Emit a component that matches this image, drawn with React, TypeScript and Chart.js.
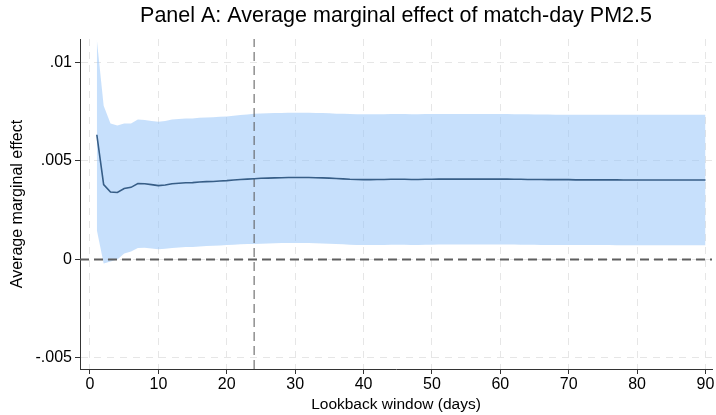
import { useEffect, useRef } from "react";
import { Chart, registerables } from "chart.js";

Chart.register(...registerables);

const days = [
  1, 2, 3, 4, 5, 6, 7, 8, 9, 10, 11, 12, 13, 14, 15, 16, 17, 18, 19, 20,
  21, 22, 23, 24, 25, 26, 27, 28, 29, 30, 31, 32, 33, 34, 35, 36, 37, 38, 39, 40,
  41, 42, 43, 44, 45, 46, 47, 48, 49, 50, 51, 52, 53, 54, 55, 56, 57, 58, 59, 60,
  61, 62, 63, 64, 65, 66, 67, 68, 69, 70, 71, 72, 73, 74, 75, 76, 77, 78, 79, 80,
  81, 82, 83, 84, 85, 86, 87, 88, 89, 90,
];

const estimate = [
  0.00633, 0.0038, 0.00342, 0.0034, 0.0036, 0.00366, 0.00385, 0.00384, 0.0038, 0.00375,
  0.00378, 0.00384, 0.00387, 0.00389, 0.0039, 0.00393, 0.00395, 0.00396, 0.00398, 0.004,
  0.00403, 0.00406, 0.00408, 0.0041, 0.00412, 0.00413, 0.00414, 0.00415, 0.00416, 0.00416,
  0.00416, 0.00416, 0.00415, 0.00414, 0.00413, 0.00411, 0.00409, 0.00407, 0.00406, 0.00405,
  0.00405, 0.00406, 0.00406, 0.00407, 0.00407, 0.00407, 0.00406, 0.00406, 0.00407, 0.00407,
  0.00408, 0.00408, 0.00408, 0.00408, 0.00408, 0.00408, 0.00408, 0.00408, 0.00408, 0.00408,
  0.00408, 0.00407, 0.00407, 0.00406, 0.00406, 0.00406, 0.00405, 0.00405, 0.00405, 0.00405,
  0.00404, 0.00404, 0.00404, 0.00404, 0.00404, 0.00404, 0.00404, 0.00403, 0.00403, 0.00403,
  0.00403, 0.00403, 0.00403, 0.00403, 0.00403, 0.00403, 0.00403, 0.00403, 0.00403, 0.00403,
];

const upper = [
  0.01115, 0.0078, 0.0069, 0.0068, 0.0069, 0.0069, 0.0071, 0.00708, 0.00703, 0.00699,
  0.00703, 0.0071, 0.00713, 0.00715, 0.00716, 0.00719, 0.00721, 0.00722, 0.00724, 0.00726,
  0.0073, 0.00733, 0.00736, 0.00739, 0.00741, 0.00742, 0.00743, 0.00744, 0.00745, 0.00745,
  0.00745, 0.00745, 0.00744, 0.00743, 0.00742, 0.0074, 0.00739, 0.00738, 0.00737, 0.00737,
  0.00737, 0.00737, 0.00737, 0.00738, 0.00738, 0.00738, 0.00737, 0.00737, 0.00738, 0.00738,
  0.00738, 0.00738, 0.00738, 0.00738, 0.00738, 0.00738, 0.00738, 0.00738, 0.00738, 0.00738,
  0.00738, 0.00737, 0.00737, 0.00737, 0.00736, 0.00736, 0.00736, 0.00735, 0.00735, 0.00735,
  0.00735, 0.00735, 0.00734, 0.00734, 0.00734, 0.00734, 0.00734, 0.00734, 0.00734, 0.00734,
  0.00734, 0.00734, 0.00734, 0.00734, 0.00734, 0.00734, 0.00734, 0.00734, 0.00734, 0.00734,
];

const lower = [
  0.0015, -0.0002, -0.0001, 0.0, 0.0003, 0.0004, 0.00058, 0.0006, 0.00056, 0.00052,
  0.00054, 0.00058, 0.00061, 0.00063, 0.00063, 0.00066, 0.00068, 0.00069, 0.00071, 0.00073,
  0.00075, 0.00077, 0.00078, 0.00079, 0.0008, 0.00081, 0.00082, 0.00083, 0.00083, 0.00083,
  0.00083, 0.00083, 0.00082, 0.00081, 0.0008, 0.00078, 0.00077, 0.00075, 0.00074, 0.00073,
  0.00073, 0.00074, 0.00074, 0.00075, 0.00075, 0.00075, 0.00074, 0.00074, 0.00075, 0.00075,
  0.00076, 0.00076, 0.00076, 0.00076, 0.00076, 0.00076, 0.00076, 0.00076, 0.00076, 0.00076,
  0.00076, 0.00076, 0.00075, 0.00075, 0.00075, 0.00074, 0.00074, 0.00074, 0.00073, 0.00073,
  0.00073, 0.00073, 0.00073, 0.00073, 0.00073, 0.00073, 0.00072, 0.00072, 0.00072, 0.00072,
  0.00072, 0.00072, 0.00072, 0.00072, 0.00072, 0.00072, 0.00072, 0.00072, 0.00072, 0.00072,
];

const xTicks = [0, 10, 20, 30, 40, 50, 60, 70, 80, 90];
const yTicks = [-0.005, 0, 0.005, 0.01];
const yTickLabels = ["-.005", "0", ".005", ".01"];
const refX = 24;
const refY = 0;

const titleText = "Panel A: Average marginal effect of match-day PM2.5";
const xTitle = "Lookback window (days)";
const yTitle = "Average marginal effect";

export default function App() {
  const ref = useRef<HTMLCanvasElement>(null);

  useEffect(() => {
    if (!ref.current) return;
    const family = "'Liberation Sans', Arial, Helvetica, sans-serif";
    const xMin = -1.46;
    const xMax = 90.95;
    const yMin = -0.00556;
    const yMax = 0.01119;
    const pts = (arr: number[]) => days.map((d, i) => ({ x: d, y: arr[i] }));

    const chart = new Chart(ref.current, {
      type: "line",
      data: {
        datasets: [
          {
            label: "lower",
            data: pts(lower),
            borderColor: "rgba(0,0,0,0)",
            borderWidth: 0,
            pointRadius: 0,
            fill: false,
            order: 4,
          },
          {
            label: "upper",
            data: pts(upper),
            borderColor: "rgba(0,0,0,0)",
            borderWidth: 0,
            pointRadius: 0,
            fill: "-1",
            backgroundColor: "rgba(143,193,250,0.5)",
            order: 3,
          },
          {
            label: "zero",
            data: [
              { x: xMin, y: refY },
              { x: xMax, y: refY },
            ],
            borderColor: "#5e5e5e",
            borderWidth: 2,
            borderDash: [9, 5],
            pointRadius: 0,
            fill: false,
            order: 2,
          },
          {
            label: "ref",
            data: [
              { x: refX, y: yMin },
              { x: refX, y: yMax },
            ],
            borderColor: "#555555",
            borderWidth: 1,
            borderDash: [9, 5],
            pointRadius: 0,
            fill: false,
            order: 2,
          },
          {
            label: "estimate",
            data: pts(estimate),
            borderColor: "#375e87",
            borderWidth: 1.6,
            pointRadius: 0,
            fill: false,
            tension: 0,
            order: 1,
          },
        ],
      },
      options: {
        responsive: false,
        animation: false,
        layout: { padding: { left: 0, right: 4, top: 0, bottom: 0 } },
        plugins: {
          legend: { display: false },
          tooltip: { enabled: false },
          title: {
            display: true,
            text: titleText,
            fullSize: false,
            color: "#000",
            font: { family, size: 21.5, weight: "normal" },
            padding: { top: 3, bottom: 10.2 },
          },
        },
        scales: {
          x: {
            type: "linear",
            min: xMin,
            max: xMax,
            afterBuildTicks: (s: any) => {
              s.ticks = xTicks.map((v) => ({ value: v }));
            },
            afterFit: (s: any) => {
              s.height = 46;
            },
            ticks: {
              font: { family, size: 16 },
              color: "#000",
              padding: 1,
              maxRotation: 0,
              autoSkip: false,
            },
            grid: {
              color: "#e6e6e6",
              lineWidth: 1,
              tickColor: "#333",
              tickLength: 5,
              tickWidth: 1,
            },
            border: { display: true, color: "#333", width: 1, dash: [7, 6] },
            title: {
              display: true,
              text: xTitle,
              color: "#000",
              font: { family, size: 15.5 },
              padding: { top: 0, bottom: 0.5 },
            },
          },
          y: {
            type: "linear",
            min: yMin,
            max: yMax,
            afterBuildTicks: (s: any) => {
              s.ticks = yTicks.map((v) => ({ value: v }));
            },
            afterFit: (s: any) => {
              s.width = 80;
            },
            ticks: {
              font: { family, size: 16 },
              color: "#000",
              padding: 3,
              autoSkip: false,
              callback: (v: any) => {
                const i = yTicks.findIndex((t) => Math.abs(t - Number(v)) < 1e-9);
                return i >= 0 ? yTickLabels[i] : "";
              },
            },
            grid: {
              color: "#e6e6e6",
              lineWidth: 1,
              tickColor: "#333",
              tickLength: 5,
              tickWidth: 1,
            },
            border: { display: true, color: "#333", width: 1, dash: [7, 6] },
            title: {
              display: true,
              text: yTitle,
              color: "#000",
              font: { family, size: 16 },
              padding: { top: 8, bottom: 0 },
            },
          },
        },
      },
    } as any);

    return () => chart.destroy();
  }, []);

  return (
    <div style={{ position: "absolute", left: 0, top: 0, width: 716, height: 415, background: "#fff" }}>
      <canvas ref={ref} width={716} height={415} style={{ display: "block", width: 716, height: 415 }} />
    </div>
  );
}
